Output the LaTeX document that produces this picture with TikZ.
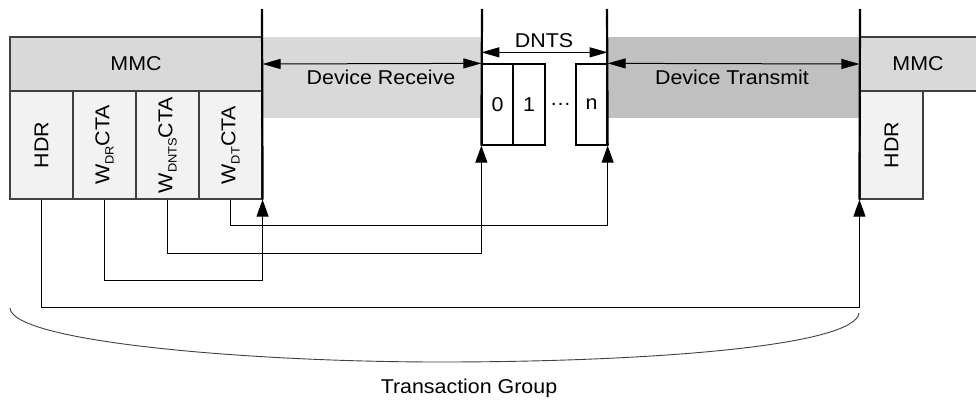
\documentclass[tikz,border=0pt]{standalone}
\usepackage{fontspec}
\setmainfont[FakeStretch=1.07]{Liberation Sans}
\usetikzlibrary{arrows.meta}

\definecolor{bandlight}{HTML}{D9D9D9}
\definecolor{banddark}{HTML}{C0C0C0}
\definecolor{fieldfill}{HTML}{F2F2F2}
\definecolor{edgegrey}{HTML}{404040}

\newcommand\lowsub[1]{\raisebox{-0.4ex}{\fontsize{12}{12}\selectfont #1}}

\begin{document}
\begin{tikzpicture}[x=1pt,y=-1pt,
  every node/.style={font=\fontsize{20}{23}\selectfont, text=black, inner sep=0pt},
  mmcbox/.style={draw=edgegrey, line width=1.1pt, fill=bandlight, minimum height=54pt},
  fieldbox/.style={draw=edgegrey, line width=1.1pt, fill=fieldfill, minimum width=63pt, minimum height=108pt},
  slotbox/.style={draw=black, line width=1.3pt, fill=white, minimum height=81pt},
  boundary/.style={line width=2.2pt, black},
  link/.style={line width=1pt, black},
  uparrow/.style={link, -{Triangle[length=17pt,width=12pt]}},
  span/.style={line width=1pt, black, {Triangle[length=18pt,width=10pt]}-{Triangle[length=18pt,width=10pt]}}
]
\useasboundingbox (0,0) rectangle (976,399);

% shaded phases
\fill[bandlight] (262,37) rectangle (482,118);
\fill[banddark] (607,37) rectangle (860,118);

% left MMC with its fields
\node[mmcbox, minimum width=252pt] (mmcL) at (136,64) {MMC};
\node[fieldbox] (hdrL)  at (41.5,145)  {\rotatebox{90}{HDR}};
\node[fieldbox] (wdr)   at (104.5,145) {\rotatebox{90}{W\lowsub{DR}CTA}};
\node[fieldbox] (wdnts) at (167.5,145) {\rotatebox{90}{W\lowsub{DNTS}CTA}};
\node[fieldbox] (wdt)   at (230.5,145) {\rotatebox{90}{W\lowsub{DT}CTA}};

% right MMC
\node[mmcbox, minimum width=120pt] (mmcR) at (920,64) {};
\node at (918,64) {MMC};
\node[fieldbox] (hdrR) at (891.5,145) {\rotatebox{90}{HDR}};

% DNTS slots
\node[slotbox, minimum width=31pt] (slot0) at (497.5,104.5) {0};
\node[slotbox, minimum width=32pt] (slot1) at (529,104.5) {\raisebox{-3pt}{1}};
\node (dots) at (560.5,104) {\dots};
\node[slotbox, minimum width=31pt] (slotn) at (591.5,104.5) {n};

% phase boundaries
\coordinate (b1) at (262,9);
\coordinate (b2) at (482,9);
\coordinate (b3) at (607,9);
\coordinate (b4) at (860,9);
\draw[boundary] (b1) -- (wdt.south east);
\draw[boundary] (b2) -- (slot0.south west);
\draw[boundary] (b3) -- (slotn.south east);
\draw[boundary] (b4) -- (hdrR.south west);

% phase spans
\draw[span] (mmcL.east) -- (slot0.north west);
\node (rx) at (381,77) {Device Receive};
\draw[span] (slotn.north east) -- (mmcR.west);
\node (tx) at (732,77) {Device Transmit};
\draw[span] ([yshift=11pt]slot0.north west) -- ([yshift=11pt]slotn.north east);
\node (dnts) at (544,41) {DNTS};

% field references
\draw[uparrow] (wdt.south) -- ++(0,26) -| (slotn.south east);
\draw[uparrow] (wdnts.south) -- ++(0,54) -| (slot0.south west);
\draw[uparrow] (wdr.south) -- ++(0,81) -| (wdt.south east);
\draw[uparrow] (hdrL.south) -- ++(0,108) -| (hdrR.south west);

% transaction group curve
\coordinate (gL) at (10,308);
\coordinate (gM) at (440,362);
\coordinate (gR) at (859,313);
\draw[line width=0.9pt, edgegrey] (gL) .. controls (12,342) and (250,362) .. (gM)
  .. controls (650,362) and (855,346) .. (gR);
\node (group) at (469,388) {Transaction Group};
\end{tikzpicture}
\end{document}
